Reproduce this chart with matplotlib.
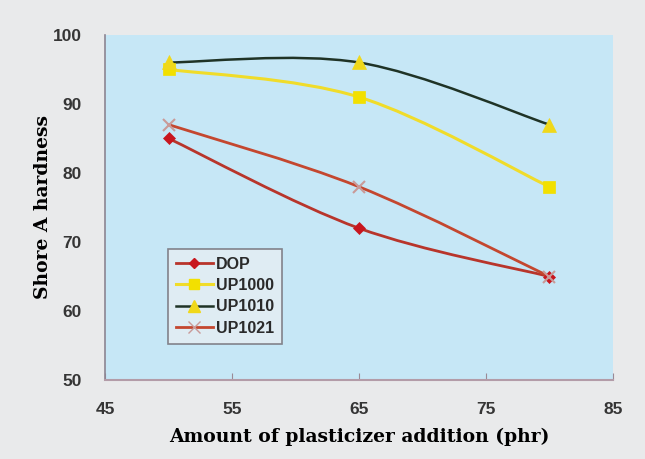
#!/usr/bin/env python3
import matplotlib
matplotlib.use('Agg')
import matplotlib.pyplot as plt
from matplotlib.path import Path
from matplotlib.patches import PathPatch
from matplotlib.lines import Line2D
import numpy as np

# Data
phr = [50, 65, 80]
dop = [85, 72, 65]
up1000 = [95, 91, 78]
up1010 = [96, 96, 87]
up1021 = [87, 78, 65]

x_ticks = [45, 55, 65, 75, 85]
y_ticks = [50, 60, 70, 80, 90, 100]


def smooth_path(xs, ys):
    # Excel-like smoothed line: cubic Bezier segments (Catmull-Rom tangents)
    p = np.column_stack([xs, ys]).astype(float)
    n = len(p)
    verts = [p[0]]
    codes = [Path.MOVETO]
    for i in range(n - 1):
        prev = p[i - 1] if i > 0 else p[i]
        nxt = p[i + 2] if i + 2 < n else p[i + 1]
        c1 = p[i] + (p[i + 1] - prev) / 6.0
        c2 = p[i + 1] - (nxt - p[i]) / 6.0
        verts += [c1, c2, p[i + 1]]
        codes += [Path.CURVE4] * 3
    return Path(verts, codes)


series = [
    ('DOP', dop, '#b8352b', 'D', '#c8161e', 6, 2.0),
    ('UP1000', up1000, '#f0dc2a', 's', '#f2e000', 8, 2.2),
    ('UP1010', up1010, '#1f3326', '^', '#f0d81a', 10, 1.8),
    ('UP1021', up1021, '#c4472f', 'x', '#c99a98', 9, 2.0),
]

fig = plt.figure(figsize=(6.45, 4.59), dpi=100)
fig.patch.set_facecolor('#e9eaeb')
ax = fig.add_axes([0.163, 0.172, 0.787, 0.752])
ax.set_facecolor('#c6e7f6')

handles = []
for name, vals, lc, mk, mc, ms, lw in series:
    ax.add_patch(PathPatch(smooth_path(phr, vals), facecolor='none',
                           edgecolor=lc, lw=lw, zorder=2))
    ax.plot(phr, vals, linestyle='none', marker=mk, color=mc,
            markersize=ms, markeredgewidth=1.5 if mk == 'x' else 0.5,
            zorder=3)
    handles.append(Line2D([0], [0], color=lc, lw=lw, marker=mk,
                          markerfacecolor=mc, markeredgecolor=mc,
                          markersize=ms * 0.9, label=name))

ax.set_xlim(45, 85)
ax.set_ylim(50, 100)
ax.set_xticks(x_ticks)
ax.set_yticks(y_ticks)

tick_font = dict(family=['Liberation Sans', 'DejaVu Sans'],
                 weight='bold', size=12.5)
ax.set_xticklabels([str(t) for t in x_ticks], fontdict=tick_font, color='#353535')
ax.set_yticklabels([str(t) for t in y_ticks], fontdict=tick_font, color='#353535')
ax.tick_params(axis='x', direction='in', length=5, pad=16, color='#9a8a96')
ax.tick_params(axis='y', direction='in', length=0, pad=17)

ax.spines['top'].set_visible(False)
ax.spines['right'].set_visible(False)
ax.spines['left'].set_color('#8c8592')
ax.spines['bottom'].set_color('#b39ca8')
ax.spines['left'].set_linewidth(1.2)
ax.spines['bottom'].set_linewidth(1.5)

label_font = dict(family=['DejaVu Serif'], weight='bold', size=13.5)
ax.set_xlabel('Amount of plasticizer addition (phr)', fontdict=label_font)
ax.set_ylabel('Shore A hardness', fontdict=label_font)
ax.xaxis.set_label_coords(0.5, -0.165)
ax.yaxis.set_label_coords(-0.122, 0.5)
ax.xaxis.label.set_va('center')
ax.yaxis.label.set_va('center')

leg = ax.legend(handles=handles, loc='lower left',
                bbox_to_anchor=(0.124, 0.105), frameon=True, fancybox=False,
                prop=dict(family=['Liberation Sans', 'DejaVu Sans'],
                          weight='bold', size=11.5),
                handlelength=2.3, handletextpad=0.2, labelspacing=0.4,
                borderpad=0.5, borderaxespad=0)
leg.get_frame().set_facecolor('#e6eef3')
leg.get_frame().set_edgecolor('#6e6870')
leg.get_frame().set_linewidth(1.2)
for t in leg.get_texts():
    t.set_color('#2a2a2a')

fig.savefig('out.png', dpi=100, facecolor=fig.get_facecolor())
